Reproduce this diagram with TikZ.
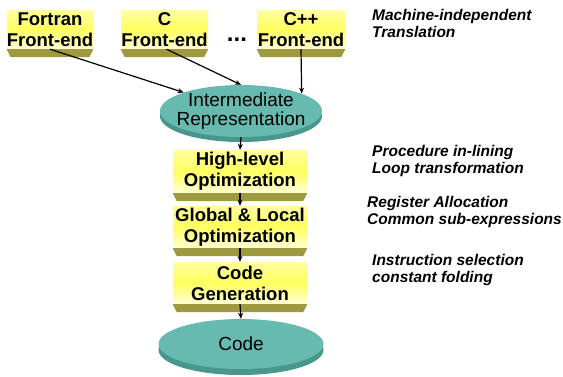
\documentclass[tikz,border=0pt]{standalone}
\usepackage{fontspec}
\setmainfont{Liberation Sans}
\usetikzlibrary{arrows.meta,shapes.geometric}
\definecolor{ypale}{RGB}{255,255,160}
\definecolor{ymid}{RGB}{255,255,95}
\definecolor{ybot}{RGB}{255,255,215}
\definecolor{olivebd}{RGB}{158,152,62}
\definecolor{tealc}{RGB}{102,186,175}
\definecolor{tealdk}{RGB}{72,150,140}
\newcommand\bevelbox[1]{\fill[olivebd] (#1.south west) -- (#1.south east) -- ([xshift=-4pt,yshift=-8pt]#1.south east) -- ([xshift=4pt,yshift=-8pt]#1.south west) -- cycle;}
\begin{document}
\begin{tikzpicture}[x=1pt,y=-1pt,
 ybox/.style={rectangle, inner sep=0pt, top color=ypale, bottom color=ybot, middle color=ymid, align=center, font=\bfseries\fontsize{18.5}{21}\selectfont},
 disc/.style={ellipse, inner sep=0pt, fill=tealc},
 dtext/.style={align=center, inner sep=0pt, font=\fontsize{19}{19.5}\selectfont},
 note/.style={anchor=north west, inner sep=0pt, align=left, font=\bfseries\itshape\fontsize{15.5}{17}\selectfont},
 conn/.style={-{Stealth[length=6pt,width=5pt]}, line width=1.2pt}]
\useasboundingbox (0,0) rectangle (563,376);
% front-ends
\node[ybox, minimum width=86pt, minimum height=39pt] (fo) at (50,29.5) {Fortran\\Front-end};
\node[ybox, minimum width=87pt, minimum height=39pt] (c) at (164.5,29.5) {C\\Front-end};
\node[ybox, minimum width=88pt, minimum height=39pt] (cpp) at (301,29.5) {C++\\Front-end};
\bevelbox{fo}\bevelbox{c}\bevelbox{cpp}
\node[anchor=base, inner sep=0pt, font=\bfseries\fontsize{24}{24}\selectfont] (dots) at (237,41) {...};
% IR
\fill[tealdk] (241,116) ellipse (81 and 26);
\node[disc, minimum width=162pt, minimum height=52pt, label={[dtext]center:Intermediate\\Representation}] (ir) at (241,111) {};
% optimization boxes
\node[ybox, minimum width=134pt, minimum height=43pt] (hl) at (240,171.5) {High-level\\Optimization};
\node[ybox, minimum width=134pt, minimum height=42pt] (gl) at (240,227) {Global \& Local\\Optimization};
\node[ybox, minimum width=134pt, minimum height=42pt] (cg) at (240,283) {Code\\Generation};
\bevelbox{hl}\bevelbox{gl}\bevelbox{cg}
% code
\fill[tealdk] (241,350) ellipse (82.5 and 25);
\node[disc, minimum width=165pt, minimum height=50pt, label={[dtext]center:Code}] (code) at (241,344) {};
% connectors
\draw[conn] (fo.south) -- (ir);
\draw[conn] ([xshift=2pt]c.south) -- (ir.north);
\draw[conn] (cpp.south) -- (ir.16.3);
\draw[conn] (ir.south) -- (hl.north);
\draw[conn] (hl.south) -- (gl.north);
\draw[conn] (gl.south) -- (cg.north);
\draw[conn] (cg.south) -- (code.north);
% notes
\node[note] (n1) at (372,9) {Machine-independent\\Translation};
\node[note] (n2) at (372,145) {Procedure in-lining\\Loop transformation};
\node[note] (n3) at (367,196) {Register Allocation\\Common sub-expressions};
\node[note] (n4) at (372,254) {Instruction selection\\constant folding};
\end{tikzpicture}
\end{document}
